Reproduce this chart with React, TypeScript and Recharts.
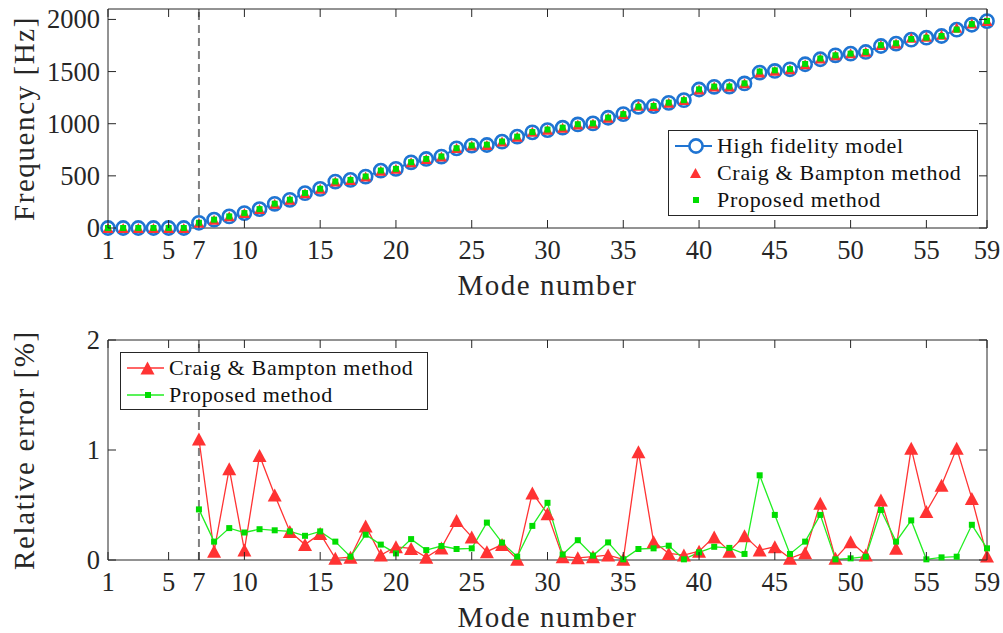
import React from "react";
import { LineChart, Line, XAxis, YAxis, ReferenceLine, Legend } from "recharts";

// mode numbers 1..59
const modes = [
  1, 2, 3, 4, 5, 6, 7, 8, 9, 10, 11, 12, 13, 14, 15, 16, 17, 18, 19, 20,
  21, 22, 23, 24, 25, 26, 27, 28, 29, 30, 31, 32, 33, 34, 35, 36, 37, 38, 39, 40,
  41, 42, 43, 44, 45, 46, 47, 48, 49, 50, 51, 52, 53, 54, 55, 56, 57, 58, 59,
];

// natural frequencies [Hz]
const hfFreq = [
  0, 0, 0, 0, 0, 0, 50, 80, 111, 143, 181, 232, 270, 334, 375, 445, 461, 493, 550, 567,
  630, 662, 685, 764, 790, 796, 828, 876, 917, 939, 962, 993, 1003, 1057, 1092, 1162, 1169, 1200, 1226, 1328,
  1354, 1356, 1386, 1490, 1506, 1522, 1570, 1618, 1656, 1672, 1688, 1745, 1768, 1806, 1825, 1841, 1902, 1949, 1984,
];
const cbFreq = [
  0, 0, 0, 0, 0, 0, 51, 80, 112, 143, 183, 233, 271, 334, 376, 445, 461, 495, 550, 568,
  631, 662, 686, 767, 792, 797, 829, 876, 923, 943, 962, 993, 1003, 1057, 1092, 1173, 1171, 1201, 1227, 1329,
  1357, 1357, 1389, 1491, 1508, 1522, 1571, 1626, 1656, 1675, 1689, 1755, 1770, 1824, 1833, 1854, 1921, 1960, 1985,
];
const pmFreq = [
  0, 0, 0, 0, 0, 0, 50, 80, 111, 143, 181, 233, 271, 335, 376, 446, 461, 494, 551, 567,
  631, 662, 686, 765, 791, 799, 829, 876, 920, 944, 962, 995, 1003, 1059, 1092, 1163, 1170, 1202, 1226, 1329,
  1356, 1357, 1387, 1501, 1512, 1523, 1573, 1625, 1656, 1672, 1688, 1753, 1771, 1812, 1825, 1841, 1903, 1955, 1986,
];

// relative error [%], modes 1..6 have none
const cbErr = [
  null, null, null, null, null, null,
  1.1, 0.08, 0.83, 0.09, 0.95, 0.59, 0.26, 0.14, 0.24, 0.015, 0.025, 0.31, 0.045, 0.12,
  0.105, 0.025, 0.11, 0.36, 0.21, 0.076, 0.14, 0.006, 0.61, 0.42, 0.03, 0.02, 0.03, 0.045, 0.006, 0.985,
  0.167, 0.06, 0.045, 0.08, 0.21, 0.08, 0.22, 0.09, 0.12, 0.015, 0.067, 0.515, 0.015, 0.167,
  0.045, 0.545, 0.106, 1.015, 0.44, 0.68, 1.015, 0.56, 0.036,
];
const pmErr = [
  null, null, null, null, null, null,
  0.46, 0.167, 0.29, 0.25, 0.28, 0.27, 0.26, 0.22, 0.26, 0.167, 0.03, 0.23, 0.14, 0.06,
  0.19, 0.09, 0.127, 0.1, 0.106, 0.34, 0.158, 0.03, 0.31, 0.52, 0.05, 0.18, 0.04, 0.16, 0.006, 0.1,
  0.106, 0.13, 0.006, 0.07, 0.12, 0.11, 0.055, 0.77, 0.41, 0.055, 0.167, 0.41, 0.006, 0.015,
  0.03, 0.455, 0.167, 0.36, 0.006, 0.024, 0.03, 0.32, 0.106,
];

const xTicks = [1, 5, 7, 10, 15, 20, 25, 30, 35, 40, 45, 50, 55, 59];
const freqTicks = [0, 500, 1000, 1500, 2000];
const errTicks = [0, 1, 2];

const freqData = modes.map((m, i) => ({ mode: m, hf: hfFreq[i], cb: cbFreq[i], pm: pmFreq[i] }));
const errData = modes.map((m, i) => ({ mode: m, cb: cbErr[i], pm: pmErr[i] }));

const SERIF = '"Liberation Serif", "DejaVu Serif", serif';
const AXIS = "#262626";
const BLUE = "#1f74d2";
const RED = "#ff3333";
const GREEN = "#00dd00";
const GREEN_LINE = "#22ee22";
const TL = 8;
const PLOT_RIGHT = 987;

const tri = (cx: number, cy: number, w: number, h: number) =>
  `${cx},${cy - h / 2} ${cx - w / 2},${cy + h / 2} ${cx + w / 2},${cy + h / 2}`;

const makeDot = (kind: string, big: boolean) => (p: any) => {
  const k = `${kind}-${p.index}`;
  if (p.cy == null || p.payload == null) return <g key={k} />;
  if (kind === "circle")
    return <circle key={k} cx={p.cx} cy={p.cy} r={6.6} fill="#fff" stroke={BLUE} strokeWidth={2.6} />;
  if (kind === "tri") {
    const w = big ? 14 : 11;
    const h = big ? 13 : 10;
    return <polygon key={k} points={tri(p.cx, p.cy, w, h)} fill={RED} />;
  }
  const s = 6;
  return <rect key={k} x={p.cx - s / 2} y={p.cy - s / 2} width={s} height={s} fill={GREEN} />;
};

function XTick(props: any) {
  const { x, y, payload, plotTop } = props;
  return (
    <g>
      <line x1={x} y1={y} x2={x} y2={y - TL} stroke={AXIS} />
      <line x1={x} y1={plotTop} x2={x} y2={plotTop + TL} stroke={AXIS} />
      <text x={x} y={y + 31} textAnchor="middle" fill={AXIS} style={{ fontFamily: SERIF, fontSize: 26.5 }}>
        {payload.value}
      </text>
    </g>
  );
}

function YTick(props: any) {
  const { x, y, payload } = props;
  return (
    <g>
      <line x1={x} y1={y} x2={x + TL} y2={y} stroke={AXIS} />
      <line x1={PLOT_RIGHT} y1={y} x2={PLOT_RIGHT - TL} y2={y} stroke={AXIS} />
      <text x={x - 8} y={y} dy="0.34em" textAnchor="end" fill={AXIS} style={{ fontFamily: SERIF, fontSize: 26.5 }}>
        {payload.value}
      </text>
    </g>
  );
}

function XTitle(props: any) {
  const vb = props.viewBox || {};
  const cx = (vb.x ?? 108) + (vb.width ?? 879) / 2;
  return (
    <text
      x={cx}
      y={(vb.y ?? 0) + 67}
      textAnchor="middle"
      fill={AXIS}
      style={{ fontFamily: SERIF, fontSize: 29, letterSpacing: 1.5 }}
    >
      {props.text}
    </text>
  );
}

function YTitle(props: any) {
  const vb = props.viewBox || {};
  const cx = 24;
  const cy = (vb.y ?? 0) + (vb.height ?? 220) / 2;
  return (
    <text
      x={cx}
      y={cy}
      transform={`rotate(-90 ${cx} ${cy})`}
      textAnchor="middle"
      dy="0.34em"
      fill={AXIS}
      style={{ fontFamily: SERIF, fontSize: 29, letterSpacing: 1.6 }}
    >
      {props.text}
    </text>
  );
}

function LegendIcon({ kind, line }: { kind: string; line?: string }) {
  return (
    <svg width={46} height={20} style={{ flex: "none" }}>
      {line && <line x1={6} y1={10} x2={43} y2={10} stroke={line} strokeWidth={kind === "circle" ? 2 : 1.5} />}
      {kind === "circle" && <circle cx={27} cy={10} r={6.6} fill="#fff" stroke={BLUE} strokeWidth={2.6} />}
      {kind === "tri" && <polygon points={tri(26.5, 10, line ? 14 : 11, line ? 13 : 10)} fill={RED} />}
      {kind === "sq" && <rect x={24} y={7} width={6} height={6} fill={GREEN} />}
    </svg>
  );
}

const markerOf: Record<string, string> = { hf: "circle", cb: "tri", pm: "sq" };
const legendOrder = ["hf", "cb", "pm"];

const makeLegend = (w: number, h: number, withLines: boolean) => (props: any) => {
  const items = [...((props.payload || []) as any[])].sort(
    (a, b) => legendOrder.indexOf(String(a.dataKey)) - legendOrder.indexOf(String(b.dataKey))
  );
  return (
    <div
      style={{
        width: w,
        height: h,
        boxSizing: "border-box",
        border: `1px solid ${AXIS}`,
        background: "#fff",
        paddingTop: 1,
        fontFamily: SERIF,
        fontSize: 22,
        letterSpacing: 0.7,
        color: "#111",
      }}
    >
      {items.map((it) => {
        const key = String(it.dataKey);
        const line =
          key === "hf" ? BLUE : withLines ? (key === "cb" ? RED : GREEN_LINE) : undefined;
        return (
          <div key={key} style={{ display: "flex", alignItems: "center", height: 27, whiteSpace: "nowrap" }}>
            <LegendIcon kind={markerOf[key]} line={line} />
            <span style={{ marginLeft: 2 }}>{it.value}</span>
          </div>
        );
      })}
    </div>
  );
};

function FrequencyChart() {
  return (
    <LineChart width={1003} height={310} data={freqData} margin={{ top: 9, right: 16, bottom: 0, left: 0 }}>
      <XAxis
        dataKey="mode"
        type="number"
        domain={[1, 59]}
        ticks={xTicks}
        interval={0}
        height={82}
        tickSize={0}
        tickMargin={0}
        stroke={AXIS}
        tick={<XTick plotTop={9} />}
        label={<XTitle text="Mode number" />}
      />
      <YAxis
        type="number"
        domain={[0, 2100]}
        ticks={freqTicks}
        width={108}
        tickSize={0}
        tickMargin={0}
        stroke={AXIS}
        tick={<YTick />}
        label={<YTitle text="Frequency [Hz]" />}
      />
      <ReferenceLine y={2100} stroke={AXIS} />
      <ReferenceLine x={59} stroke={AXIS} />
      <ReferenceLine x={7} stroke="#808080" strokeWidth={2} strokeDasharray="8 5" />
      <Legend
        layout="horizontal"
        verticalAlign="middle"
        align="center"
        wrapperStyle={{ left: 668, top: 130, width: 310, height: 86 }}
        content={makeLegend(310, 86, false)}
      />
      <Line
        dataKey="hf"
        name="High fidelity model"
        stroke={BLUE}
        strokeWidth={2}
        dot={makeDot("circle", false)}
        activeDot={false}
        isAnimationActive={false}
      />
      <Line
        dataKey="cb"
        name="Craig & Bampton method"
        stroke="none"
        dot={makeDot("tri", false)}
        activeDot={false}
        isAnimationActive={false}
      />
      <Line
        dataKey="pm"
        name="Proposed method"
        stroke="none"
        dot={makeDot("sq", false)}
        activeDot={false}
        isAnimationActive={false}
      />
    </LineChart>
  );
}

function ErrorChart() {
  return (
    <LineChart width={1003} height={323} data={errData} margin={{ top: 30, right: 16, bottom: 0, left: 0 }}>
      <XAxis
        dataKey="mode"
        type="number"
        domain={[1, 59]}
        ticks={xTicks}
        interval={0}
        height={73}
        tickSize={0}
        tickMargin={0}
        stroke={AXIS}
        tick={<XTick plotTop={30} />}
        label={<XTitle text="Mode number" />}
      />
      <YAxis
        type="number"
        domain={[0, 2]}
        ticks={errTicks}
        width={108}
        tickSize={0}
        tickMargin={0}
        stroke={AXIS}
        tick={<YTick />}
        label={<YTitle text="Relative error [%]" />}
      />
      <ReferenceLine y={2} stroke={AXIS} />
      <ReferenceLine x={59} stroke={AXIS} />
      <ReferenceLine x={7} stroke="#808080" strokeWidth={2} strokeDasharray="8 5" />
      <Legend
        layout="horizontal"
        verticalAlign="middle"
        align="center"
        wrapperStyle={{ left: 120, top: 42, width: 308, height: 58 }}
        content={makeLegend(308, 58, true)}
      />
      <Line
        dataKey="cb"
        name="Craig & Bampton method"
        stroke={RED}
        strokeWidth={1.3}
        dot={makeDot("tri", true)}
        activeDot={false}
        isAnimationActive={false}
      />
      <Line
        dataKey="pm"
        name="Proposed method"
        stroke={GREEN_LINE}
        strokeWidth={1.3}
        dot={makeDot("sq", true)}
        activeDot={false}
        isAnimationActive={false}
      />
    </LineChart>
  );
}

export default function App() {
  return (
    <div style={{ position: "absolute", left: 0, top: 0, width: 1003, height: 633, background: "#fff" }}>
      <div style={{ position: "absolute", left: 0, top: 0 }}>
        <FrequencyChart />
      </div>
      <div style={{ position: "absolute", left: 0, top: 310 }}>
        <ErrorChart />
      </div>
    </div>
  );
}
